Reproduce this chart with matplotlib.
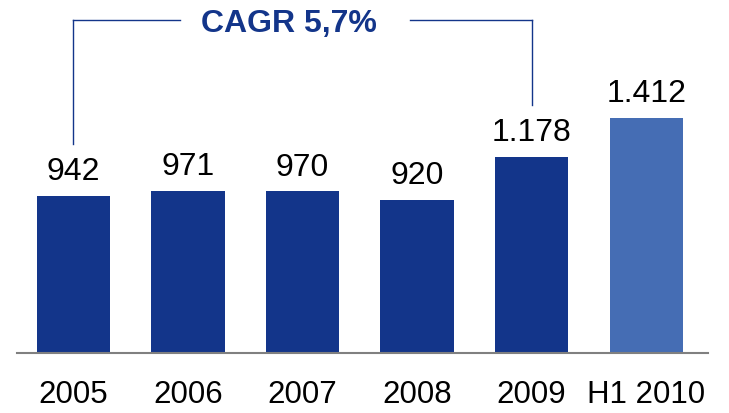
import matplotlib
matplotlib.use("Agg")
import matplotlib.pyplot as plt
from matplotlib import font_manager

# data
categories = ["2005", "2006", "2007", "2008", "2009", "H1 2010"]
values = [942, 971, 970, 920, 1178, 1412]
value_labels = ["942", "971", "970", "920", "1.178", "1.412"]
cagr_label = "CAGR 5,7%"

dark = "#13358A"
light = "#456DB4"
colors = [dark] * 5 + [light]

names = {f.name for f in font_manager.fontManager.ttflist}
family = "Liberation Sans Narrow" if "Liberation Sans Narrow" in names else "Liberation Sans"
plt.rcParams["font.family"] = [family, "DejaVu Sans"]

fig = plt.figure(figsize=(7.29, 4.14), dpi=100)
ax = fig.add_axes([0.0233, 0.145, 0.948, 0.855])

x = list(range(len(categories)))
ax.bar(x, values, width=0.64, color=colors)

for xi, v, lab in zip(x, values, value_labels):
    ax.annotate(lab, (xi, v), xytext=(0, 7), textcoords="offset points",
                ha="center", va="bottom", fontsize=23, color="black")

ax.set_xlim(-0.493, 5.54)
ax.set_ylim(0, 2124)

# CAGR bracket from 2005 to 2009
line_kw = dict(color=dark, lw=1.0)
top = 2000
ax.plot([0, 0], [values[0] + 310, top], **line_kw)
ax.plot([0, 0.93], [top, top], **line_kw)
ax.plot([2.94, 4], [top, top], **line_kw)
ax.plot([4, 4], [top, values[4] + 310], **line_kw)
ax.text(1.88, top - 20, cagr_label, ha="center", va="center", fontsize=23,
        fontweight="bold", color=dark)

ax.set_xticks(x)
ax.set_xticklabels(categories, fontsize=22.5)
ax.tick_params(axis="x", length=0, pad=19)
ax.set_yticks([])
for s in ["top", "left", "right"]:
    ax.spines[s].set_visible(False)
ax.spines["bottom"].set_color("#808080")
ax.spines["bottom"].set_linewidth(1.5)

fig.savefig("out.png", dpi=100)
